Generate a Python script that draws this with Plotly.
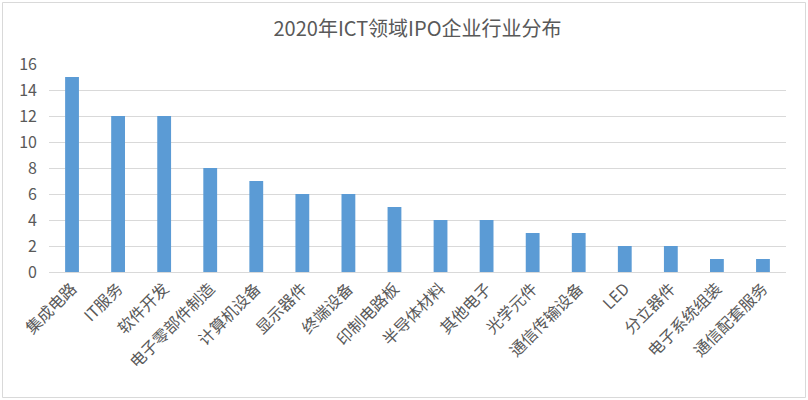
import plotly.graph_objects as go

categories = ["集成电路", "IT服务", "软件开发", "电子零部件制造", "计算机设备", "显示器件",
              "终端设备", "印制电路板", "半导体材料", "其他电子", "光学元件", "通信传输设备",
              "LED", "分立器件", "电子系统组装", "通信配套服务"]
counts = [15, 12, 12, 8, 7, 6, 6, 5, 4, 4, 3, 3, 2, 2, 1, 1]
y_ticks = [0, 2, 4, 6, 8, 10, 12, 14, 16]

W, H = 808, 400
ML, MR, MT, MB = 49, 22, 64, 128
pw, ph = W - ML - MR, H - MT - MB

def px_to_paper_x(x):
    return (x - ML) / pw

def px_to_paper_y(y):
    return (H - MB - y) / ph

font_family = "Noto Sans CJK SC, Noto Sans, sans-serif"
text_color = "#595959"

fig = go.Figure(go.Bar(
    x=categories, y=counts,
    marker=dict(color="#5b9bd5", line=dict(width=0)),
))

fig.update_layout(
    width=W, height=H,
    margin=dict(l=ML, r=MR, t=MT, b=MB),
    paper_bgcolor="white", plot_bgcolor="white",
    bargap=0.7,
    showlegend=False,
    title=dict(text="2020年ICT领域IPO企业行业分布", x=0.5, xref="paper", y=1 - 29 / H,
               yanchor="middle", font=dict(family=font_family, size=20, color=text_color)),
    xaxis=dict(tickangle=-45, tickfont=dict(family=font_family, size=16, color=text_color),
               showgrid=False, showline=True, linecolor="#d9d9d9", ticks=""),
    yaxis=dict(range=[0, 16], tickvals=y_ticks, showgrid=True, gridcolor="#d9d9d9",
               zeroline=False, ticks="", ticklabelstandoff=11,
               tickfont=dict(family=font_family, size=16, color=text_color)),
    shapes=[dict(type="rect", xref="paper", yref="paper",
                 x0=px_to_paper_x(2.5), x1=px_to_paper_x(805.5),
                 y0=px_to_paper_y(397.5), y1=px_to_paper_y(2.5),
                 line=dict(color="#d9d9d9", width=1), fillcolor="rgba(0,0,0,0)", layer="below")],
)

fig.write_html("out.html")
